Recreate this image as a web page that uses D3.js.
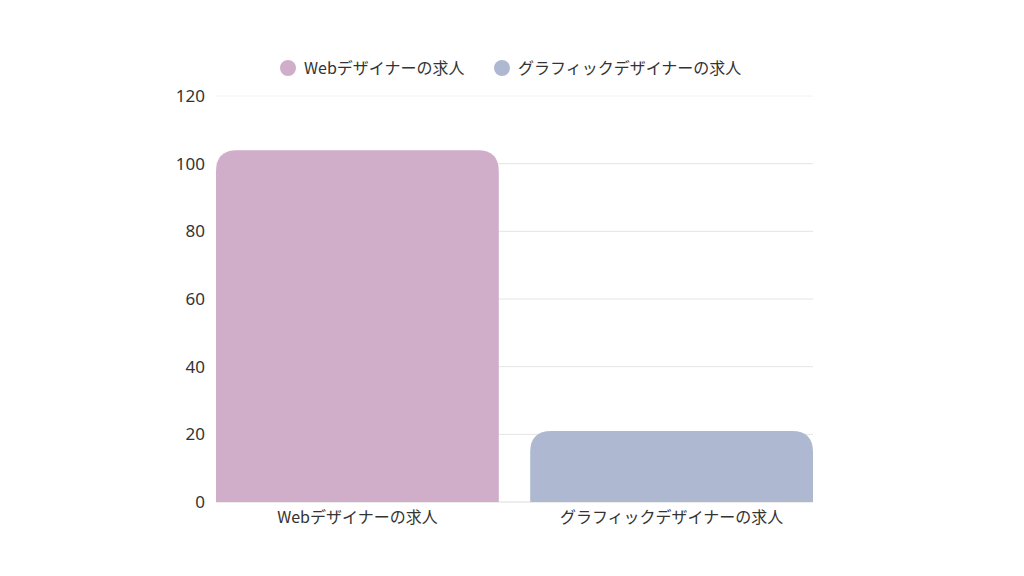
<!DOCTYPE html>
<html>
<head>
<meta charset="utf-8">
<script src="https://cdn.jsdelivr.net/npm/d3@7"></script>
<style>
  body { margin: 0; background: #fff; }
  svg { display: block; font-family: "Noto Sans CJK JP", "Noto Sans", sans-serif; }
</style>
</head>
<body>
<svg id="chart" width="1024" height="576"></svg>
<script>
const categories = ['Webデザイナーの求人', 'グラフィックデザイナーの求人'];
const jobCounts = [104, 21];
const barColors = ['#d0adc8', '#aeb8d1'];
const yTicks = [0, 20, 40, 60, 80, 100, 120];

const svg = d3.select('#chart');
const margin = { top: 96, right: 211, bottom: 74, left: 216 };
const width = 1024 - margin.left - margin.right;
const height = 576 - margin.top - margin.bottom;

const g = svg.append('g')
    .attr('transform', `translate(${margin.left},${margin.top})`);

const x = d3.scaleBand()
    .domain(categories)
    .range([0, width])
    .paddingInner(0.1)
    .paddingOuter(0);

const y = d3.scaleLinear()
    .domain([0, 120])
    .range([height, 0]);

// grid lines
g.selectAll('line.grid')
    .data(yTicks)
    .enter()
    .append('line')
        .attr('class', 'grid')
        .attr('x1', 0)
        .attr('x2', width)
        .attr('y1', d => y(d))
        .attr('y2', d => y(d))
        .attr('stroke', d => d === 0 ? '#dcdcdc' : (d === 120 ? '#f2f2f2' : '#e4e4e4'))
        .attr('stroke-width', 1);

// y axis labels
const yAxis = d3.axisLeft(y).tickValues(yTicks).tickSize(0).tickPadding(11);
g.append('g')
    .call(yAxis)
    .call(a => a.select('.domain').remove())
    .selectAll('text')
        .attr('font-size', 17)
        .attr('fill', '#333')
        .attr('font-family', '"Noto Sans", sans-serif');

// bars with rounded tops
const r = 21;
function barPath(x0, w, yTop, yBottom) {
    const rr = Math.min(r, w / 2, yBottom - yTop);
    return `M${x0},${yBottom}` +
        `V${yTop + rr}` +
        `Q${x0},${yTop} ${x0 + rr},${yTop}` +
        `H${x0 + w - rr}` +
        `Q${x0 + w},${yTop} ${x0 + w},${yTop + rr}` +
        `V${yBottom}Z`;
}

g.selectAll('path.bar')
    .data(categories)
    .enter()
    .append('path')
        .attr('class', 'bar')
        .attr('fill', (d, i) => barColors[i])
        .attr('d', (d, i) => barPath(x(d), x.bandwidth(), y(jobCounts[i]), y(0)));

// x axis labels
const xAxis = d3.axisBottom(x).tickSize(0).tickPadding(10);
g.append('g')
    .attr('transform', `translate(0,${height})`)
    .call(xAxis)
    .call(a => a.select('.domain').remove())
    .selectAll('text')
        .attr('font-size', 16)
        .attr('fill', '#333')
        .attr('font-family', '"Noto Sans CJK JP", sans-serif');

// legend
const legendX = [288, 502];
const legend = svg.append('g');
const items = legend.selectAll('g')
    .data(categories)
    .enter()
    .append('g')
        .attr('transform', (d, i) => `translate(${legendX[i]},68)`);
items.append('circle')
    .attr('r', 8)
    .attr('fill', (d, i) => barColors[i]);
items.append('text')
    .attr('x', 16)
    .attr('dy', '0.35em')
    .attr('font-size', 16)
    .attr('fill', '#333')
    .text(d => d);
</script>
</body>
</html>
